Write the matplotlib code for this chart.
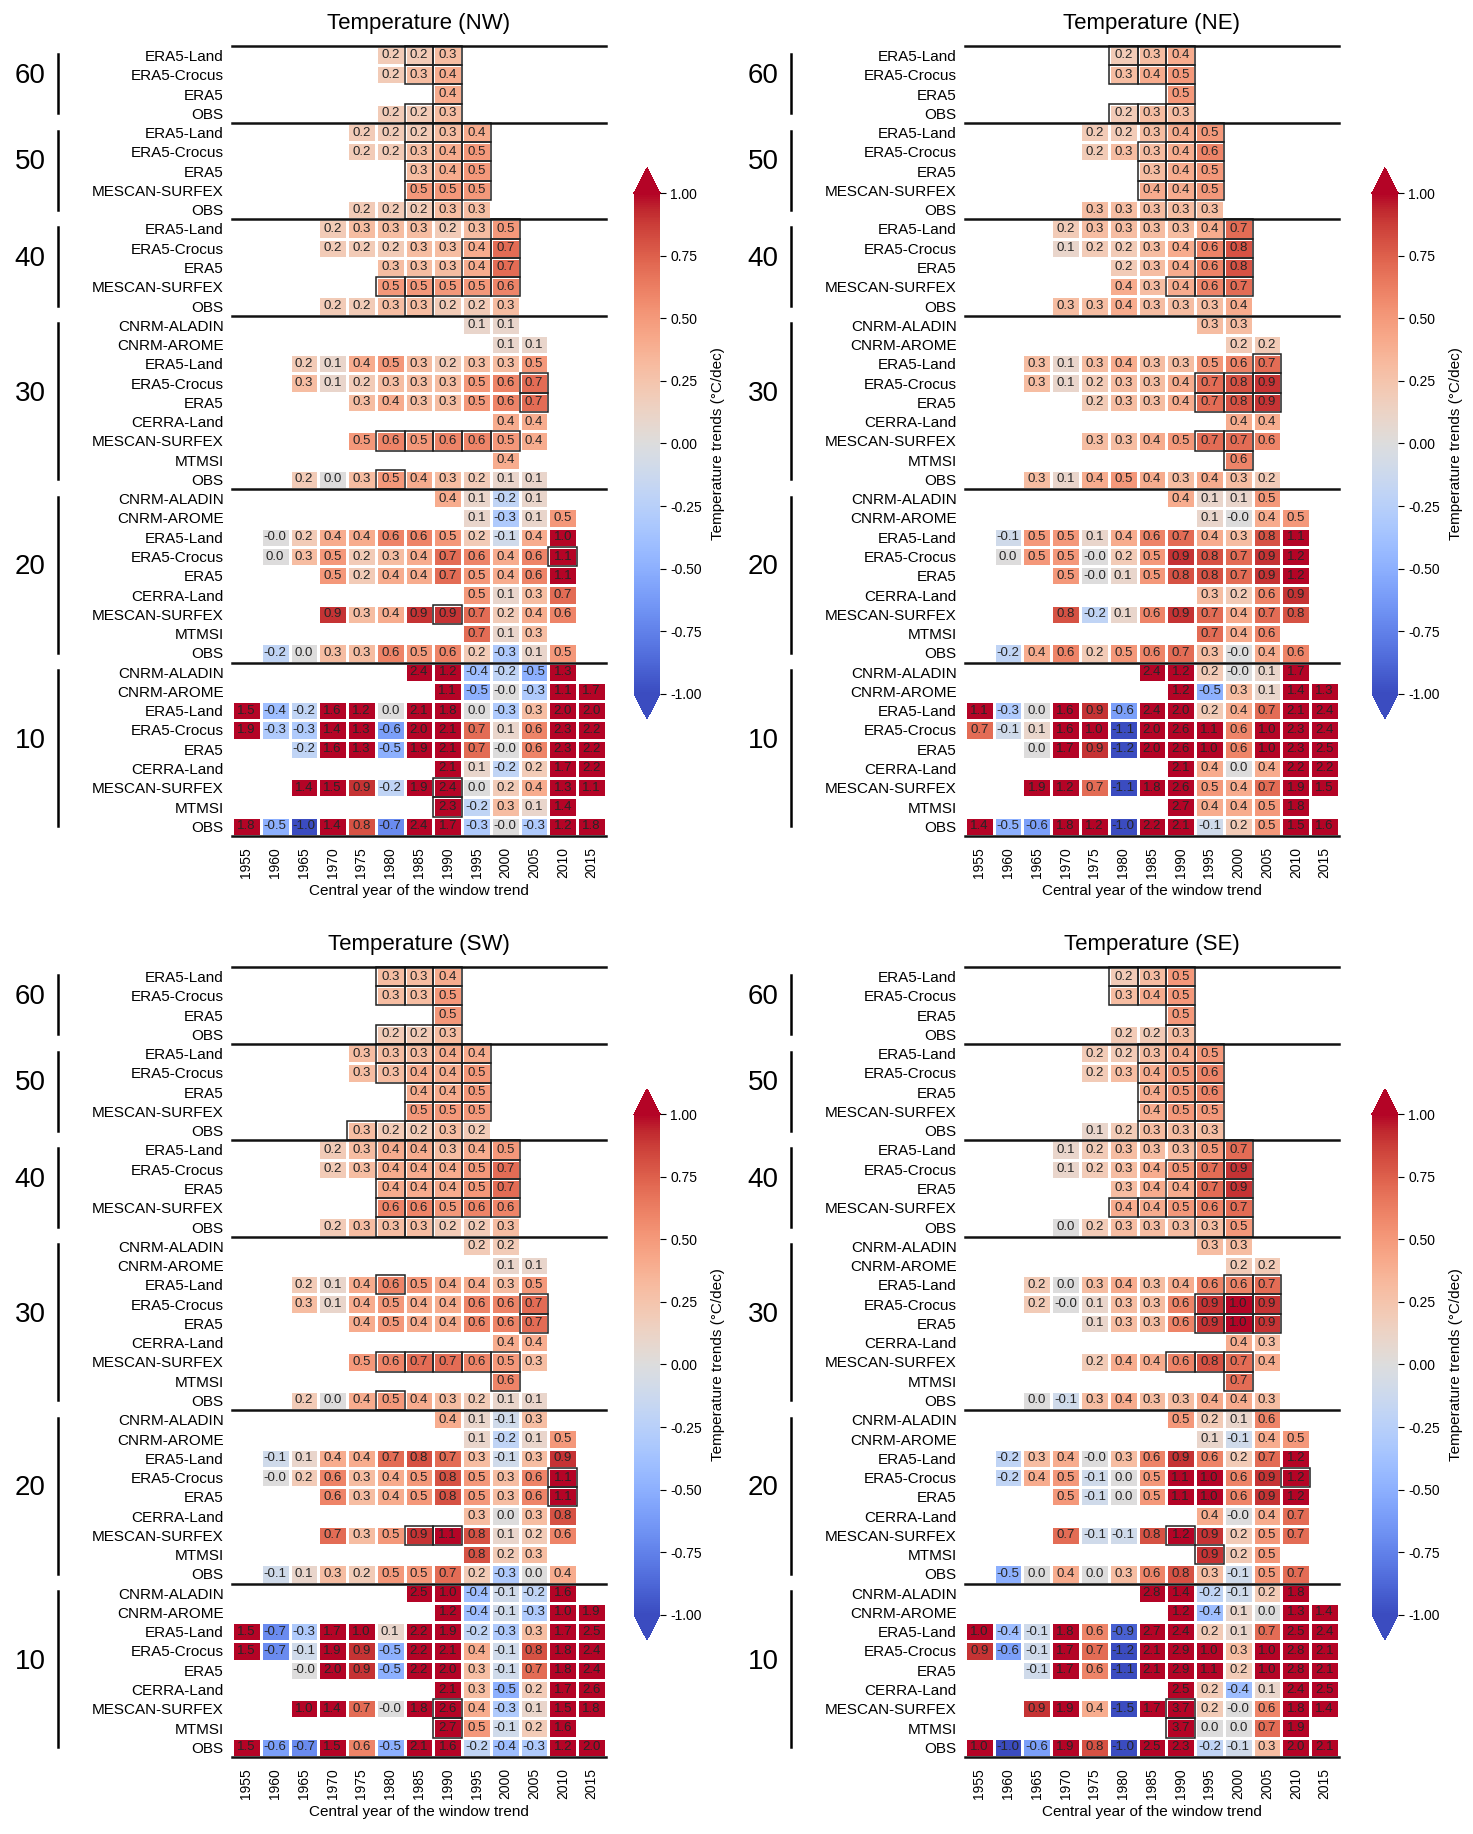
import numpy as np
import matplotlib
matplotlib.use("Agg")
import matplotlib.pyplot as plt
from matplotlib.patches import Rectangle
from matplotlib.transforms import blended_transform_factory

plt.rcParams['font.family'] = ['Liberation Sans', 'DejaVu Sans']

# Central years of the window trends and window lengths
years = list(range(1955, 2020, 5))
windows = [60, 50, 40, 30, 20, 10]

# Each row: (dataset, first central year, trends in °C/dec, significant years)
# ---------------- NW ----------------
nw_60 = [
    ("ERA5-Land", 1980, [0.2, 0.2, 0.3], [1985, 1990]),
    ("ERA5-Crocus", 1980, [0.2, 0.3, 0.4], [1985, 1990]),
    ("ERA5", 1990, [0.4], [1990]),
    ("OBS", 1980, [0.2, 0.2, 0.3], [1985, 1990]),
]
nw_50 = [
    ("ERA5-Land", 1975, [0.2, 0.2, 0.2, 0.3, 0.4], [1985, 1990, 1995]),
    ("ERA5-Crocus", 1975, [0.2, 0.2, 0.3, 0.4, 0.5], [1985, 1990, 1995]),
    ("ERA5", 1985, [0.3, 0.4, 0.5], [1985, 1990, 1995]),
    ("MESCAN-SURFEX", 1985, [0.5, 0.5, 0.5], [1985, 1990, 1995]),
    ("OBS", 1975, [0.2, 0.2, 0.2, 0.3, 0.3], [1985, 1990]),
]
nw_40 = [
    ("ERA5-Land", 1970, [0.2, 0.3, 0.3, 0.3, 0.2, 0.3, 0.5], [2000]),
    ("ERA5-Crocus", 1970, [0.2, 0.2, 0.2, 0.3, 0.3, 0.4, 0.7], [1995, 2000]),
    ("ERA5", 1980, [0.3, 0.3, 0.3, 0.4, 0.7], [1995, 2000]),
    ("MESCAN-SURFEX", 1980, [0.5, 0.5, 0.5, 0.5, 0.6], [1980, 1985, 1990, 1995, 2000]),
    ("OBS", 1970, [0.2, 0.2, 0.3, 0.3, 0.2, 0.2, 0.3], [1985]),
]
nw_30 = [
    ("CNRM-ALADIN", 1995, [0.1, 0.1], []),
    ("CNRM-AROME", 2000, [0.1, 0.1], []),
    ("ERA5-Land", 1965, [0.2, 0.1, 0.4, 0.5, 0.3, 0.2, 0.3, 0.3, 0.5], []),
    ("ERA5-Crocus", 1965, [0.3, 0.1, 0.2, 0.3, 0.3, 0.3, 0.5, 0.6, 0.7], [2005]),
    ("ERA5", 1975, [0.3, 0.4, 0.3, 0.3, 0.5, 0.6, 0.7], [2005]),
    ("CERRA-Land", 2000, [0.4, 0.4], []),
    ("MESCAN-SURFEX", 1975, [0.5, 0.6, 0.5, 0.6, 0.6, 0.5, 0.4], [1980, 1985, 1990, 1995, 2000]),
    ("MTMSI", 2000, [0.4], []),
    ("OBS", 1965, [0.2, 0.0, 0.3, 0.5, 0.4, 0.3, 0.2, 0.1, 0.1], [1980]),
]
nw_20 = [
    ("CNRM-ALADIN", 1990, [0.4, 0.1, -0.2, 0.1], []),
    ("CNRM-AROME", 1995, [0.1, -0.3, 0.1, 0.5], []),
    ("ERA5-Land", 1960, [-0.0, 0.2, 0.4, 0.4, 0.6, 0.6, 0.5, 0.2, -0.1, 0.4, 1.0], []),
    ("ERA5-Crocus", 1960, [0.0, 0.3, 0.5, 0.2, 0.3, 0.4, 0.7, 0.6, 0.4, 0.6, 1.1], [2010]),
    ("ERA5", 1970, [0.5, 0.2, 0.4, 0.4, 0.7, 0.5, 0.4, 0.6, 1.1], []),
    ("CERRA-Land", 1995, [0.5, 0.1, 0.3, 0.7], []),
    ("MESCAN-SURFEX", 1970, [0.9, 0.3, 0.4, 0.9, 0.9, 0.7, 0.2, 0.4, 0.6], [1990]),
    ("MTMSI", 1995, [0.7, 0.1, 0.3], []),
    ("OBS", 1960, [-0.2, 0.0, 0.3, 0.3, 0.6, 0.5, 0.6, 0.2, -0.3, 0.1, 0.5], []),
]
nw_10 = [
    ("CNRM-ALADIN", 1985, [2.4, 1.2, -0.4, -0.2, -0.5, 1.3], []),
    ("CNRM-AROME", 1990, [1.1, -0.5, -0.0, -0.3, 1.1, 1.7], []),
    ("ERA5-Land", 1955, [1.5, -0.4, -0.2, 1.6, 1.2, 0.0, 2.1, 1.8, 0.0, -0.3, 0.3, 2.0, 2.0], []),
    ("ERA5-Crocus", 1955, [1.9, -0.3, -0.3, 1.4, 1.3, -0.6, 2.0, 2.1, 0.7, 0.1, 0.6, 2.3, 2.2], []),
    ("ERA5", 1965, [-0.2, 1.6, 1.3, -0.5, 1.9, 2.1, 0.7, -0.0, 0.6, 2.3, 2.2], []),
    ("CERRA-Land", 1990, [2.1, 0.1, -0.2, 0.2, 1.7, 2.2], []),
    ("MESCAN-SURFEX", 1965, [1.4, 1.5, 0.9, -0.2, 1.9, 2.4, 0.0, 0.2, 0.4, 1.3, 1.1], [1990]),
    ("MTMSI", 1990, [2.3, -0.2, 0.3, 0.1, 1.4], [1990]),
    ("OBS", 1955, [1.8, -0.5, -1.0, 1.4, 0.8, -0.7, 2.4, 1.7, -0.3, -0.0, -0.3, 1.2, 1.8], []),
]

# ---------------- NE ----------------
ne_60 = [
    ("ERA5-Land", 1980, [0.2, 0.3, 0.4], [1980, 1985, 1990]),
    ("ERA5-Crocus", 1980, [0.3, 0.4, 0.5], [1980, 1985, 1990]),
    ("ERA5", 1990, [0.5], [1990]),
    ("OBS", 1980, [0.2, 0.3, 0.3], [1980, 1985, 1990]),
]
ne_50 = [
    ("ERA5-Land", 1975, [0.2, 0.2, 0.3, 0.4, 0.5], [1990, 1995]),
    ("ERA5-Crocus", 1975, [0.2, 0.3, 0.3, 0.4, 0.6], [1985, 1990, 1995]),
    ("ERA5", 1985, [0.3, 0.4, 0.5], [1985, 1990, 1995]),
    ("MESCAN-SURFEX", 1985, [0.4, 0.4, 0.5], [1985, 1990, 1995]),
    ("OBS", 1975, [0.3, 0.3, 0.3, 0.3, 0.3], [1990]),
]
ne_40 = [
    ("ERA5-Land", 1970, [0.2, 0.3, 0.3, 0.3, 0.3, 0.4, 0.7], [2000]),
    ("ERA5-Crocus", 1970, [0.1, 0.2, 0.2, 0.3, 0.4, 0.6, 0.8], [1995, 2000]),
    ("ERA5", 1980, [0.2, 0.3, 0.4, 0.6, 0.8], [1995, 2000]),
    ("MESCAN-SURFEX", 1980, [0.4, 0.3, 0.4, 0.6, 0.7], [1990, 1995, 2000]),
    ("OBS", 1970, [0.3, 0.3, 0.4, 0.3, 0.3, 0.3, 0.4], []),
]
ne_30 = [
    ("CNRM-ALADIN", 1995, [0.3, 0.3], []),
    ("CNRM-AROME", 2000, [0.2, 0.2], []),
    ("ERA5-Land", 1965, [0.3, 0.1, 0.3, 0.4, 0.3, 0.3, 0.5, 0.6, 0.7], [2005]),
    ("ERA5-Crocus", 1965, [0.3, 0.1, 0.2, 0.3, 0.3, 0.4, 0.7, 0.8, 0.9], [1995, 2000, 2005]),
    ("ERA5", 1975, [0.2, 0.3, 0.3, 0.4, 0.7, 0.8, 0.9], [1995, 2000, 2005]),
    ("CERRA-Land", 2000, [0.4, 0.4], []),
    ("MESCAN-SURFEX", 1975, [0.3, 0.3, 0.4, 0.5, 0.7, 0.7, 0.6], [1995, 2000]),
    ("MTMSI", 2000, [0.6], [2000]),
    ("OBS", 1965, [0.3, 0.1, 0.4, 0.5, 0.4, 0.3, 0.4, 0.3, 0.2], []),
]
ne_20 = [
    ("CNRM-ALADIN", 1990, [0.4, 0.1, 0.1, 0.5], []),
    ("CNRM-AROME", 1995, [0.1, -0.0, 0.4, 0.5], []),
    ("ERA5-Land", 1960, [-0.1, 0.5, 0.5, 0.1, 0.4, 0.6, 0.7, 0.4, 0.3, 0.8, 1.1], []),
    ("ERA5-Crocus", 1960, [0.0, 0.5, 0.5, -0.0, 0.2, 0.5, 0.9, 0.8, 0.7, 0.9, 1.2], []),
    ("ERA5", 1970, [0.5, -0.0, 0.1, 0.5, 0.8, 0.8, 0.7, 0.9, 1.2], []),
    ("CERRA-Land", 1995, [0.3, 0.2, 0.6, 0.9], []),
    ("MESCAN-SURFEX", 1970, [0.8, -0.2, 0.1, 0.6, 0.9, 0.7, 0.4, 0.7, 0.8], []),
    ("MTMSI", 1995, [0.7, 0.4, 0.6], []),
    ("OBS", 1960, [-0.2, 0.4, 0.6, 0.2, 0.5, 0.6, 0.7, 0.3, -0.0, 0.4, 0.6], []),
]
ne_10 = [
    ("CNRM-ALADIN", 1985, [2.4, 1.2, 0.2, -0.0, 0.1, 1.7], []),
    ("CNRM-AROME", 1990, [1.2, -0.5, 0.3, 0.1, 1.4, 1.3], []),
    ("ERA5-Land", 1955, [1.1, -0.3, 0.0, 1.6, 0.9, -0.6, 2.4, 2.0, 0.2, 0.4, 0.7, 2.1, 2.4], []),
    ("ERA5-Crocus", 1955, [0.7, -0.1, 0.1, 1.6, 1.0, -1.1, 2.0, 2.6, 1.1, 0.6, 1.0, 2.3, 2.4], []),
    ("ERA5", 1965, [0.0, 1.7, 0.9, -1.2, 2.0, 2.6, 1.0, 0.6, 1.0, 2.3, 2.5], []),
    ("CERRA-Land", 1990, [2.1, 0.4, 0.0, 0.4, 2.2, 2.2], []),
    ("MESCAN-SURFEX", 1965, [1.9, 1.2, 0.7, -1.1, 1.8, 2.6, 0.5, 0.4, 0.7, 1.9, 1.5], []),
    ("MTMSI", 1990, [2.7, 0.4, 0.4, 0.5, 1.8], []),
    ("OBS", 1955, [1.4, -0.5, -0.6, 1.8, 1.2, -1.0, 2.2, 2.1, -0.1, 0.2, 0.5, 1.5, 1.6], []),
]

# ---------------- SW ----------------
sw_60 = [
    ("ERA5-Land", 1980, [0.3, 0.3, 0.4], [1980, 1985, 1990]),
    ("ERA5-Crocus", 1980, [0.3, 0.3, 0.5], [1980, 1985, 1990]),
    ("ERA5", 1990, [0.5], [1990]),
    ("OBS", 1980, [0.2, 0.2, 0.3], [1980, 1985, 1990]),
]
sw_50 = [
    ("ERA5-Land", 1975, [0.3, 0.3, 0.3, 0.4, 0.4], [1980, 1985, 1990, 1995]),
    ("ERA5-Crocus", 1975, [0.3, 0.3, 0.4, 0.4, 0.5], [1980, 1985, 1990, 1995]),
    ("ERA5", 1985, [0.4, 0.4, 0.5], [1985, 1990, 1995]),
    ("MESCAN-SURFEX", 1985, [0.5, 0.5, 0.5], [1985, 1990, 1995]),
    ("OBS", 1975, [0.3, 0.2, 0.2, 0.3, 0.2], [1975, 1980, 1985, 1990]),
]
sw_40 = [
    ("ERA5-Land", 1970, [0.2, 0.3, 0.4, 0.4, 0.3, 0.4, 0.5], [1980, 1985, 1990, 1995, 2000]),
    ("ERA5-Crocus", 1970, [0.2, 0.3, 0.4, 0.4, 0.4, 0.5, 0.7], [1980, 1985, 1990, 1995, 2000]),
    ("ERA5", 1980, [0.4, 0.4, 0.4, 0.5, 0.7], [1980, 1985, 1990, 1995, 2000]),
    ("MESCAN-SURFEX", 1980, [0.6, 0.6, 0.5, 0.6, 0.6], [1980, 1985, 1990, 1995, 2000]),
    ("OBS", 1970, [0.2, 0.3, 0.3, 0.3, 0.2, 0.2, 0.3], [1980, 1985]),
]
sw_30 = [
    ("CNRM-ALADIN", 1995, [0.2, 0.2], []),
    ("CNRM-AROME", 2000, [0.1, 0.1], []),
    ("ERA5-Land", 1965, [0.2, 0.1, 0.4, 0.6, 0.5, 0.4, 0.4, 0.3, 0.5], [1980]),
    ("ERA5-Crocus", 1965, [0.3, 0.1, 0.4, 0.5, 0.4, 0.4, 0.6, 0.6, 0.7], [2005]),
    ("ERA5", 1975, [0.4, 0.5, 0.4, 0.4, 0.6, 0.6, 0.7], [2005]),
    ("CERRA-Land", 2000, [0.4, 0.4], []),
    ("MESCAN-SURFEX", 1975, [0.5, 0.6, 0.7, 0.7, 0.6, 0.5, 0.3], [1980, 1985, 1990, 1995, 2000]),
    ("MTMSI", 2000, [0.6], [2000]),
    ("OBS", 1965, [0.2, 0.0, 0.4, 0.5, 0.4, 0.3, 0.2, 0.1, 0.1], [1980]),
]
sw_20 = [
    ("CNRM-ALADIN", 1990, [0.4, 0.1, -0.1, 0.3], []),
    ("CNRM-AROME", 1995, [0.1, -0.2, 0.1, 0.5], []),
    ("ERA5-Land", 1960, [-0.1, 0.1, 0.4, 0.4, 0.7, 0.8, 0.7, 0.3, -0.1, 0.3, 0.9], []),
    ("ERA5-Crocus", 1960, [-0.0, 0.2, 0.6, 0.3, 0.4, 0.5, 0.8, 0.5, 0.3, 0.6, 1.1], [2010]),
    ("ERA5", 1970, [0.6, 0.3, 0.4, 0.5, 0.8, 0.5, 0.3, 0.6, 1.1], [2010]),
    ("CERRA-Land", 1995, [0.3, 0.0, 0.3, 0.8], []),
    ("MESCAN-SURFEX", 1970, [0.7, 0.3, 0.5, 0.9, 1.1, 0.8, 0.1, 0.2, 0.6], [1985, 1990]),
    ("MTMSI", 1995, [0.8, 0.2, 0.3], []),
    ("OBS", 1960, [-0.1, 0.1, 0.3, 0.2, 0.5, 0.5, 0.7, 0.2, -0.3, 0.0, 0.4], []),
]
sw_10 = [
    ("CNRM-ALADIN", 1985, [2.5, 1.0, -0.4, -0.1, -0.2, 1.6], []),
    ("CNRM-AROME", 1990, [1.2, -0.4, -0.1, -0.3, 1.0, 1.9], []),
    ("ERA5-Land", 1955, [1.5, -0.7, -0.3, 1.7, 1.0, 0.1, 2.2, 1.9, -0.2, -0.3, 0.3, 1.7, 2.5], []),
    ("ERA5-Crocus", 1955, [1.5, -0.7, -0.1, 1.9, 0.9, -0.5, 2.2, 2.1, 0.4, -0.1, 0.8, 1.8, 2.4], []),
    ("ERA5", 1965, [-0.0, 2.0, 0.9, -0.5, 2.2, 2.0, 0.3, -0.1, 0.7, 1.8, 2.4], []),
    ("CERRA-Land", 1990, [2.1, 0.3, -0.5, 0.2, 1.7, 2.6], []),
    ("MESCAN-SURFEX", 1965, [1.0, 1.4, 0.7, -0.0, 1.8, 2.6, 0.4, -0.3, 0.1, 1.5, 1.8], [1990]),
    ("MTMSI", 1990, [2.7, 0.5, -0.1, 0.2, 1.6], [1990]),
    ("OBS", 1955, [1.5, -0.6, -0.7, 1.5, 0.6, -0.5, 2.1, 1.6, -0.2, -0.4, -0.3, 1.2, 2.0], []),
]

# ---------------- SE ----------------
se_60 = [
    ("ERA5-Land", 1980, [0.2, 0.3, 0.5], [1980, 1985, 1990]),
    ("ERA5-Crocus", 1980, [0.3, 0.4, 0.5], [1980, 1985, 1990]),
    ("ERA5", 1990, [0.5], [1990]),
    ("OBS", 1980, [0.2, 0.2, 0.3], [1990]),
]
se_50 = [
    ("ERA5-Land", 1975, [0.2, 0.2, 0.3, 0.4, 0.5], [1985, 1990, 1995]),
    ("ERA5-Crocus", 1975, [0.2, 0.3, 0.4, 0.5, 0.6], [1985, 1990, 1995]),
    ("ERA5", 1985, [0.4, 0.5, 0.6], [1985, 1990, 1995]),
    ("MESCAN-SURFEX", 1985, [0.4, 0.5, 0.5], [1985, 1990, 1995]),
    ("OBS", 1975, [0.1, 0.2, 0.3, 0.3, 0.3], [1985, 1990, 1995]),
]
se_40 = [
    ("ERA5-Land", 1970, [0.1, 0.2, 0.3, 0.3, 0.3, 0.5, 0.7], [1995, 2000]),
    ("ERA5-Crocus", 1970, [0.1, 0.2, 0.3, 0.4, 0.5, 0.7, 0.9], [1990, 1995, 2000]),
    ("ERA5", 1980, [0.3, 0.4, 0.4, 0.7, 0.9], [1990, 1995, 2000]),
    ("MESCAN-SURFEX", 1980, [0.4, 0.4, 0.5, 0.6, 0.7], [1980, 1985, 1990, 1995, 2000]),
    ("OBS", 1970, [0.0, 0.2, 0.3, 0.3, 0.3, 0.3, 0.5], [1995, 2000]),
]
se_30 = [
    ("CNRM-ALADIN", 1995, [0.3, 0.3], []),
    ("CNRM-AROME", 2000, [0.2, 0.2], []),
    ("ERA5-Land", 1965, [0.2, 0.0, 0.3, 0.4, 0.3, 0.4, 0.6, 0.6, 0.7], [2000, 2005]),
    ("ERA5-Crocus", 1965, [0.2, -0.0, 0.1, 0.3, 0.3, 0.6, 0.9, 1.0, 0.9], [1995, 2000, 2005]),
    ("ERA5", 1975, [0.1, 0.3, 0.3, 0.6, 0.9, 1.0, 0.9], [1995, 2000, 2005]),
    ("CERRA-Land", 2000, [0.4, 0.3], []),
    ("MESCAN-SURFEX", 1975, [0.2, 0.4, 0.4, 0.6, 0.8, 0.7, 0.4], [1990, 1995, 2000]),
    ("MTMSI", 2000, [0.7], [2000]),
    ("OBS", 1965, [0.0, -0.1, 0.3, 0.4, 0.3, 0.3, 0.4, 0.4, 0.3], []),
]
se_20 = [
    ("CNRM-ALADIN", 1990, [0.5, 0.2, 0.1, 0.6], []),
    ("CNRM-AROME", 1995, [0.1, -0.1, 0.4, 0.5], []),
    ("ERA5-Land", 1960, [-0.2, 0.3, 0.4, -0.0, 0.3, 0.6, 0.9, 0.6, 0.2, 0.7, 1.2], []),
    ("ERA5-Crocus", 1960, [-0.2, 0.4, 0.5, -0.1, 0.0, 0.5, 1.1, 1.0, 0.6, 0.9, 1.2], [2010]),
    ("ERA5", 1970, [0.5, -0.1, 0.0, 0.5, 1.1, 1.0, 0.6, 0.9, 1.2], []),
    ("CERRA-Land", 1995, [0.4, -0.0, 0.4, 0.7], []),
    ("MESCAN-SURFEX", 1970, [0.7, -0.1, -0.1, 0.8, 1.2, 0.9, 0.2, 0.5, 0.7], [1990]),
    ("MTMSI", 1995, [0.9, 0.2, 0.5], [1995]),
    ("OBS", 1960, [-0.5, 0.0, 0.4, 0.0, 0.3, 0.6, 0.8, 0.3, -0.1, 0.5, 0.7], []),
]
se_10 = [
    ("CNRM-ALADIN", 1985, [2.8, 1.4, -0.2, -0.1, 0.2, 1.8], []),
    ("CNRM-AROME", 1990, [1.2, -0.4, 0.1, 0.0, 1.3, 1.4], []),
    ("ERA5-Land", 1955, [1.0, -0.4, -0.1, 1.8, 0.6, -0.9, 2.7, 2.4, 0.2, 0.1, 0.7, 2.5, 2.4], []),
    ("ERA5-Crocus", 1955, [0.9, -0.6, -0.1, 1.7, 0.7, -1.2, 2.1, 2.9, 1.0, 0.3, 1.0, 2.8, 2.1], []),
    ("ERA5", 1965, [-0.1, 1.7, 0.6, -1.1, 2.1, 2.9, 1.1, 0.2, 1.0, 2.8, 2.1], []),
    ("CERRA-Land", 1990, [2.5, 0.2, -0.4, 0.1, 2.4, 2.5], []),
    ("MESCAN-SURFEX", 1965, [0.9, 1.9, 0.4, -1.5, 1.7, 3.7, 0.2, -0.0, 0.6, 1.8, 1.4], [1990]),
    ("MTMSI", 1990, [3.7, 0.0, 0.0, 0.7, 1.9], [1990]),
    ("OBS", 1955, [1.0, -1.0, -0.6, 1.9, 0.8, -1.0, 2.5, 2.3, -0.2, -0.1, 0.3, 2.0, 2.1], []),
]

panels = [
    ("Temperature (NW)", [nw_60, nw_50, nw_40, nw_30, nw_20, nw_10]),
    ("Temperature (NE)", [ne_60, ne_50, ne_40, ne_30, ne_20, ne_10]),
    ("Temperature (SW)", [sw_60, sw_50, sw_40, sw_30, sw_20, sw_10]),
    ("Temperature (SE)", [se_60, se_50, se_40, se_30, se_20, se_10]),
]

# axes positions in figure fraction (heatmap, colorbar)
ax_pos = [
    ([0.1575, 0.5442, 0.2539, 0.4308], [0.4304, 0.6080, 0.0177, 0.3004]),
    ([0.6551, 0.5442, 0.2539, 0.4308], [0.9314, 0.6080, 0.0177, 0.3004]),
    ([0.1575, 0.0420, 0.2539, 0.4308], [0.4304, 0.1058, 0.0177, 0.3004]),
    ([0.6551, 0.0420, 0.2539, 0.4308], [0.9314, 0.1058, 0.0177, 0.3004]),
]
cbar_ticks = [-1, -0.75, -0.5, -0.25, 0, 0.25, 0.5, 0.75, 1]


def build(groups):
    names, vals, sig, bounds = [], [], [], [0]
    for grp in groups:
        for name, start, v, s in grp:
            row = np.full(len(years), np.nan)
            i0 = years.index(start)
            row[i0:i0 + len(v)] = v
            names.append(name)
            vals.append(row)
            sig.append([years.index(y) for y in s])
        bounds.append(len(names))
    return names, np.array(vals), sig, bounds


def draw_panel(ax, cax, title, groups):
    names, vals, sig, bounds = build(groups)
    nr, nc = vals.shape
    mesh = ax.pcolormesh(np.ma.masked_invalid(vals), cmap='coolwarm', vmin=-1, vmax=1,
                         edgecolors='white', linewidth=1.0)
    ax.set_xlim(0, nc)
    ax.set_ylim(nr, 0)

    for r in range(nr):
        for c in range(nc):
            v = vals[r, c]
            if not np.isnan(v):
                ax.text(c + 0.5, r + 0.5, f"{v:.1f}", ha='center', va='center',
                        fontsize=9.5, color='#262626')
        for c in sig[r]:
            ax.add_patch(Rectangle((c, r), 1, 1, fill=False, edgecolor='#222222',
                                   lw=1.1, zorder=3, clip_on=False))

    # separators between window lengths
    for b in bounds:
        ax.axhline(b, color='#111111', lw=1.8, zorder=4, clip_on=False)

    # window length labels on the left
    trans = blended_transform_factory(ax.transAxes, ax.transData)
    for w, b0, b1 in zip(windows, bounds[:-1], bounds[1:]):
        ax.plot([-0.465, -0.465], [b0 + 0.4, b1 - 0.5], transform=trans,
                color='black', lw=1.8, clip_on=False)
        ax.text(-0.54, (b0 + b1) / 2 - 0.45, str(w), transform=trans, ha='center',
                va='center', fontsize=20)

    ax.set_yticks(np.arange(nr) + 0.5)
    ax.set_yticklabels(names, fontsize=11)
    ax.set_xticks(np.arange(nc) + 0.5)
    ax.set_xticklabels([str(y) for y in years], rotation=90, fontsize=10)
    ax.tick_params(axis='y', length=0, pad=6)
    ax.tick_params(axis='x', length=0, pad=8)
    ax.set_xlabel("Central year of the window trend", fontsize=11)
    ax.set_title(title, fontsize=16, pad=12)
    for s in ax.spines.values():
        s.set_visible(False)

    cb = plt.colorbar(mesh, cax=cax, extend='both')
    cb.set_ticks(cbar_ticks)
    cb.ax.set_yticklabels([f"{t:.2f}" for t in cbar_ticks])
    cb.ax.tick_params(labelsize=10, length=4)
    cb.outline.set_visible(False)
    cb.set_label("Temperature trends (°C/dec)", fontsize=11, labelpad=6)


fig = plt.figure(figsize=(14.73, 18.34), dpi=100)
for (title, groups), (p_ax, p_cb) in zip(panels, ax_pos):
    ax = fig.add_axes(p_ax)
    cax = fig.add_axes(p_cb)
    draw_panel(ax, cax, title, groups)

fig.savefig("out.png", dpi=100)
